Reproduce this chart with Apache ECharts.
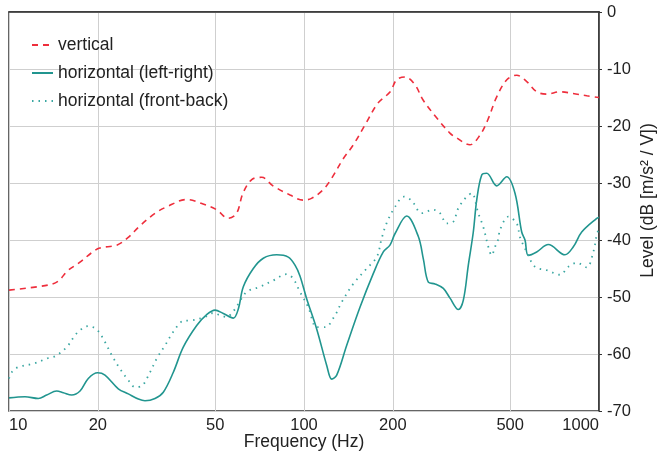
<!DOCTYPE html>
<html>
<head>
<meta charset="utf-8">
<script src="https://cdn.jsdelivr.net/npm/echarts@6/dist/echarts.min.js"></script>
<style>html,body{margin:0;padding:0;background:#fff}#c{width:658px;height:454px}</style>
</head>
<body>
<div id="c"></div>
<script>
const xTicks = [10, 20, 50, 100, 200, 500, 1000];
const seriesNames = ['vertical', 'horizontal (left-right)', 'horizontal (front-back)'];

const vertFreq = [10, 13.6, 14.7, 15.8, 17.4, 19.1, 20.3, 23.2, 25.3, 27.8, 31.3, 34.2, 40.0, 45.5, 50.6, 55.3, 59.1, 62.1, 66.5, 71.9, 78.5, 89.7, 99.2, 106, 116, 124, 136, 147, 161, 178, 196, 206, 220, 238, 253, 282, 313, 325, 365, 395, 420, 450, 487, 526, 569, 615, 665, 738, 817, 909, 1000];
const vertLevel = [-48.8, -47.9, -47.2, -45.4, -43.9, -42.2, -41.4, -40.9, -39.6, -37.5, -35.3, -34.2, -32.9, -33.7, -34.7, -36.2, -35.3, -31.8, -29.4, -29.0, -30.5, -32.1, -33.0, -32.7, -31.2, -29.2, -25.7, -23.3, -19.8, -16.0, -14.0, -11.9, -11.4, -12.8, -15.4, -18.6, -21.3, -21.9, -23.3, -21.6, -18.9, -14.9, -11.9, -11.1, -12.2, -14.0, -14.4, -14.0, -14.3, -14.7, -15.0];

const lrFreq = [10, 11.33, 12.57, 13.42, 14.51, 15.28, 16.31, 17.41, 18.57, 19.98, 21.15, 23.47, 25.38, 27.45, 28.91, 31.26, 33.35, 36.06, 38.97, 43.28, 46.79, 49.93, 53.27, 57.6, 59.89, 62.27, 67.33, 72.78, 80.81, 88.46, 93.22, 96.9, 102.1, 110.4, 119.4, 124.2, 129.1, 139.5, 154.8, 171.7, 185.7, 195.6, 203.4, 222.9, 244.1, 253.8, 263.9, 278.1, 296.7, 312.6, 333.6, 346.7, 360.6, 374.9, 385.0, 400.4, 416.3, 450.1, 486.6, 519.1, 547.0, 561.3, 575.9, 614.9, 673.1, 766.6, 818.4, 873.8, 982.2, 1000];
const lrLevel = [-67.7, -67.5, -67.8, -67.2, -66.5, -66.8, -67.2, -66.5, -64.3, -63.3, -63.7, -66.1, -67.0, -67.9, -68.2, -67.8, -66.7, -63.2, -58.8, -55.0, -53.1, -52.3, -52.9, -53.7, -52.1, -48.2, -45.0, -43.2, -42.6, -43.0, -44.4, -46.3, -50.3, -55.6, -62.0, -64.4, -63.7, -58.5, -51.8, -45.9, -42.1, -40.9, -38.9, -35.8, -39.4, -43.3, -47.4, -47.7, -48.5, -50.2, -52.2, -50.6, -44.4, -38.6, -33.0, -28.6, -28.3, -30.5, -28.9, -31.8, -38.6, -40.0, -42.7, -42.1, -40.8, -42.6, -41.2, -38.6, -36.2, -36.0];

const fbFreq = [10, 10.21, 10.75, 12.09, 13.6, 14.32, 15.69, 16.96, 18.57, 19.83, 21.15, 22.29, 23.78, 25.38, 26.74, 28.18, 30.06, 31.68, 33.8, 36.06, 38.97, 41.63, 46.17, 49.27, 51.92, 54.7, 57.6, 59.89, 63.95, 70.92, 78.69, 87.37, 91.97, 96.9, 103.4, 110.4, 117.8, 127.4, 134.2, 146.9, 163.1, 176.4, 183.4, 190.7, 203.4, 218.3, 231.8, 250.6, 274.4, 289.1, 304.6, 320.7, 333.6, 356.1, 370.3, 389.7, 405.3, 421.5, 432.9, 444.2, 455.8, 461.8, 492.6, 526, 539.8, 569, 606.8, 665, 738, 786.6, 840.2, 909, 956.5, 982, 1000];
const fbLevel = [-64.3, -63.2, -62.3, -61.7, -60.7, -60.4, -58.8, -56.4, -55.1, -55.7, -57.9, -60.2, -62.6, -64.6, -65.8, -65.6, -63.2, -60.8, -58.5, -56.1, -54.2, -54.1, -53.5, -52.8, -53.2, -53.5, -52.5, -51.2, -49.1, -48.2, -47.1, -46.0, -46.8, -49.1, -51.8, -55.3, -55.3, -53.2, -50.9, -47.7, -45.0, -43.0, -39.7, -37.0, -34.2, -32.4, -33.1, -35.3, -34.7, -35.3, -37.1, -36.8, -34.4, -32.4, -31.8, -35.3, -37.7, -41.2, -42.7, -41.2, -39.8, -38.2, -35.9, -37.1, -39.5, -42.1, -44.7, -45.3, -46.1, -44.7, -44.0, -44.8, -42.1, -39.2, -37.9];

function pairs(xs, ys) { return xs.map((x, i) => [x, ys[i]]); }

const RED = '#ee2e3c';
const TEAL = '#21958f';
const TEAL2 = '#3aa7a2';
const FONT = '"Liberation Sans", Arial, sans-serif';

const chart = echarts.init(document.getElementById('c'), null, {renderer: 'canvas'});
chart.setOption({
  animation: false,
  textStyle: {fontFamily: FONT},
  grid: {left: 9, right: 59, top: 12, bottom: 43, show: true, borderColor: '#333', borderWidth: 1.5, containLabel: false, outerBoundsMode: 'none'},
  legend: {
    orient: 'vertical', left: 26, top: 31, itemWidth: 21, itemHeight: 14, itemGap: 10,
    itemStyle: {opacity: 0},
    textStyle: {fontSize: 17.5, color: '#222', fontFamily: FONT},
    data: seriesNames
  },
  xAxis: {
    type: 'log', logBase: 10, min: 10, max: 1000,
    name: 'Frequency (Hz)', nameLocation: 'middle', nameGap: 22, nameMoveOverlap: false,
    nameTextStyle: {fontSize: 17.5, color: '#222', fontFamily: FONT},
    axisLine: {show: true, lineStyle: {color: '#333', width: 1.5}},
    axisTick: {show: false, customValues: xTicks},
    axisLabel: {fontSize: 16.5, color: '#222', margin: 6, customValues: xTicks, alignMinLabel: 'left', alignMaxLabel: 'right', fontFamily: FONT,
      formatter: v => String(Math.round(v))},
    splitLine: {show: true, lineStyle: {color: '#cfcfcf', width: 1}},
    minorSplitLine: {show: false}
  },
  yAxis: {
    type: 'value', position: 'right', min: -70, max: 0, interval: 10,
    name: 'Level (dB [m/s² / V])', nameLocation: 'middle', nameGap: 40, nameRotate: 90, nameMoveOverlap: false,
    nameTextStyle: {fontSize: 17.5, color: '#222', fontFamily: FONT, padding: [0, 0, 0, 22]},
    axisLine: {show: true, lineStyle: {color: '#333', width: 1.5}},
    axisTick: {show: true, inside: false, length: 3, lineStyle: {color: '#333'}},
    axisLabel: {fontSize: 16.5, color: '#222', margin: 8, fontFamily: FONT},
    splitLine: {show: true, lineStyle: {color: '#cfcfcf', width: 1}}
  },
  series: [
    {name: seriesNames[0], type: 'line', data: pairs(vertFreq, vertLevel), smooth: 0.35, symbol: 'none',
     lineStyle: {color: RED, width: 1.6, type: [6, 5]}, itemStyle: {color: RED}},
    {name: seriesNames[1], type: 'line', data: pairs(lrFreq, lrLevel), smooth: 0.35, symbol: 'none',
     lineStyle: {color: TEAL, width: 1.6, type: 'solid'}, itemStyle: {color: TEAL}},
    {name: seriesNames[2], type: 'line', data: pairs(fbFreq, fbLevel), smooth: 0.35, symbol: 'none',
     lineStyle: {color: TEAL2, width: 1.8, type: [1.5, 5]}, itemStyle: {color: TEAL2}}
  ]
});
</script>
</body>
</html>
